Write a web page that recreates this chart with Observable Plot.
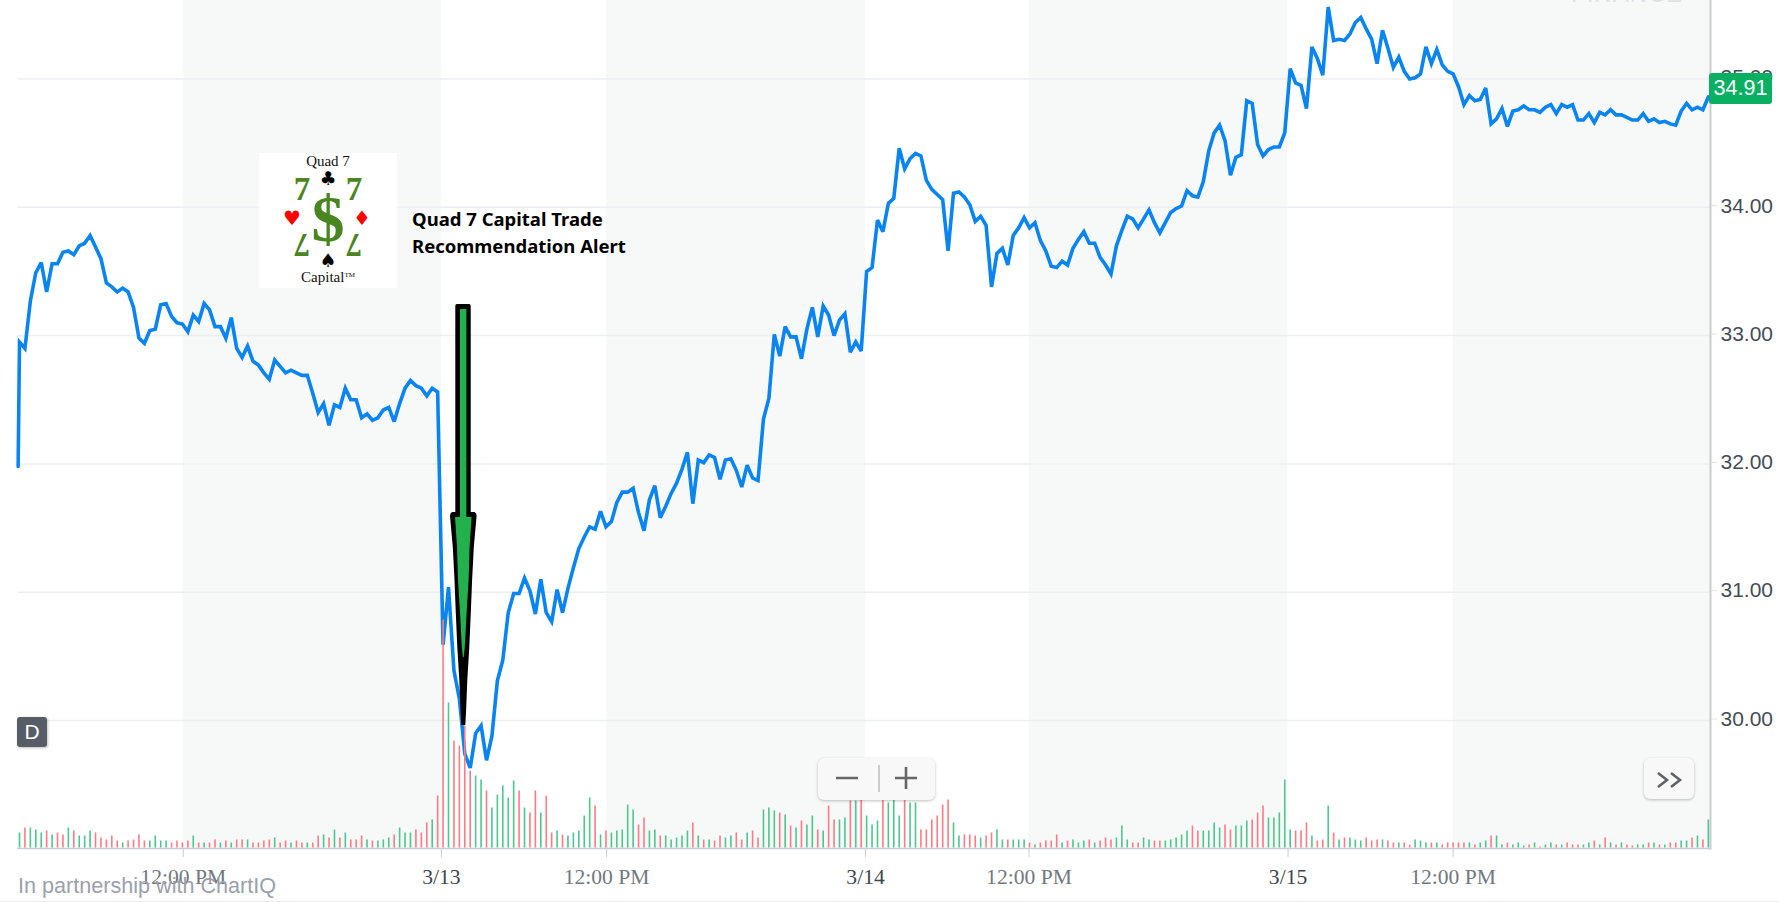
<!DOCTYPE html>
<html>
<head>
<meta charset="utf-8">
<script src="https://cdn.jsdelivr.net/npm/d3@7"></script>
<script src="https://cdn.jsdelivr.net/npm/@observablehq/plot@0.6"></script>
<style>
html,body{margin:0;padding:0;background:#fff;overflow:hidden}
#chart{position:relative;width:1779px;height:902px;overflow:hidden}
#chart>svg{position:absolute;left:0;top:0}
.chip{position:absolute;box-sizing:border-box;display:flex;align-items:center;justify-content:center}
</style>
</head>
<body>
<div id="chart"></div>
<script>
const prevClose = 31.98, prevCloseIndex = -0.25;
const priceDay1 = [32.95,32.9,33.27,33.49,33.57,33.34,33.56,33.56,33.65,33.66,33.63,33.7,33.72,33.78,33.69,33.6,33.41,33.38,33.34,33.37,33.34,33.22,32.98,32.94,33.04,33.05,33.24,33.25,33.15,33.1,33.09,33.03,33.16,33.11,33.25,33.2,33.07,33.07,32.98,33.14,32.9,32.83,32.92,32.8,32.77,32.71,32.66,32.81,32.76,32.71,32.73,32.71,32.69,32.69,32.55,32.4,32.47,32.3,32.46,32.44,32.59,32.5,32.5,32.36,32.39,32.34,32.36,32.42,32.44,32.33,32.47,32.59,32.65,32.61,32.59,32.53,32.59,32.56];
const priceDay2 = [30.59,31.04,30.39,30.17,29.74,29.63,29.9,29.96,29.69,29.88,30.31,30.47,30.84,30.99,30.99,31.11,31.01,30.83,31.1,30.84,30.77,31.02,30.84,31.03,31.19,31.34,31.43,31.51,31.49,31.63,31.51,31.55,31.7,31.78,31.78,31.81,31.62,31.48,31.72,31.83,31.58,31.67,31.77,31.85,31.96,32.09,31.69,32.03,32.01,32.07,32.05,31.88,32.03,32.04,31.95,31.82,31.99,31.89,31.87,32.35,32.51,33.01,32.84,33.07,32.99,32.99,32.82,33.05,33.22,32.99,33.23,33.16,33.0,33.12,33.17,32.87,32.95,32.88];
const priceDay3 = [33.5,33.53,33.9,33.81,34.03,34.07,34.46,34.3,34.38,34.42,34.4,34.21,34.14,34.1,34.06,33.66,34.11,34.12,34.08,34.02,33.89,33.93,33.86,33.38,33.64,33.68,33.55,33.78,33.84,33.92,33.84,33.88,33.74,33.66,33.54,33.53,33.58,33.55,33.68,33.75,33.81,33.72,33.72,33.61,33.55,33.48,33.7,33.82,33.93,33.91,33.84,33.91,33.98,33.88,33.8,33.88,33.96,33.99,34.01,34.13,34.09,34.08,34.2,34.44,34.58,34.64,34.52,34.25,34.39,34.41,34.83,34.81,34.49,34.4,34.45,34.47,34.47,34.58];
const priceDay4 = [35.08,34.97,34.95,34.77,35.25,35.16,35.03,35.56,35.3,35.31,35.3,35.35,35.44,35.48,35.39,35.31,35.12,35.38,35.24,35.09,35.17,35.06,35.0,35.01,35.04,35.25,35.12,35.23,35.11,35.06,35.04,34.94,34.8,34.87,34.83,34.84,34.93,34.65,34.69,34.77,34.63,34.75,34.76,34.79,34.76,34.76,34.74,34.78,34.8,34.73,34.8,34.78,34.8,34.68,34.68,34.73,34.66,34.74,34.72,34.76,34.72,34.72,34.7,34.68,34.68,34.73,34.67,34.69,34.66,34.67,34.65,34.64,34.75,34.81,34.76,34.78,34.76,34.86];
const lastPrice = "34.91";

const volumeDay1 = [15,20,20,18,15,17,13,15,13,20,17,12,12,17,15,10,8,12,7,5,7,8,13,7,7,12,7,7,5,7,5,7,12,5,5,5,8,5,7,5,8,8,8,5,5,7,8,10,5,7,5,7,5,5,5,12,13,10,18,10,15,8,8,12,8,7,7,8,10,13,20,15,15,18,15,25,28,52];
const volumeDay2 = [228,145,107,102,122,77,72,68,57,40,53,62,50,67,57,40,35,57,35,52,15,17,13,12,15,17,32,50,42,13,17,15,17,18,43,38,23,30,17,18,12,12,8,10,12,17,25,12,8,8,7,12,10,12,15,8,15,17,10,38,40,37,35,33,22,20,27,23,32,18,17,42,28,28,30,47,47,48];
const volumeDay3 = [32,23,27,55,45,55,32,55,45,45,18,18,28,32,43,48,25,12,13,13,12,10,12,15,18,8,8,8,8,8,5,3,5,7,7,13,5,7,8,5,7,8,5,7,10,8,10,22,8,5,5,10,8,7,7,7,8,10,13,17,22,17,17,17,25,20,23,18,22,22,27,28,35,42,30,30,35,68];
const volumeDay4 = [18,17,17,25,12,7,8,42,15,8,10,10,8,7,10,7,8,8,7,5,5,5,3,8,7,5,5,5,3,5,5,5,5,5,3,5,7,12,12,3,5,3,5,2,3,5,1,3,5,3,3,5,3,3,3,5,7,3,10,5,3,5,3,2,3,3,5,5,3,3,5,5,7,7,10,12,8,28];
const volumeSideDay1 = "grgggrgrrg"+"rgggrrrrrg"+"rrrrggggrr"+"rrgrgrrgrg"+"rrgrrrrgrr"+"grrgrrgrgr"+"grrrgrgggr"+"gggrrrgr";
const volumeSideDay2 = "rgrrrrggrg"+"ggggrgrrgr"+"rgrgggggrg"+"rgggggrrgg"+"rgggggrgrg"+"rrggrrgrrg"+"ggrgrgrggr"+"grrggrgr";
const volumeSideDay3 = "gggrgggrgg"+"rrrrrrggrr"+"rgrrggrggg"+"rgrrrrgrgg"+"grgrrrgggr"+"rggrrggggg"+"rrggggrrgg"+"grrrgggg";
const volumeSideDay4 = "grrrgrrgrg"+"rgggrrrgrr"+"grrgggrgrr"+"rrrgrggrgg"+"rgggrgrggr"+"grrrggrgrg"+"rgrrggrgrg"+"rrggrgrg";

const priceTicks = [30,31,32,33,34,35];
const noonTicks = [30.15,108.1,185.9,264.0];
const dateTicks = [77.7,155.8,233.6];
const dateLabels = ["3/13","3/14","3/15"];
const noonLabel = "12:00 PM";
const shadeStart = [30.15,108.1,185.9,264.0];
const shadeEnd = [77.7,155.8,233.6,311.4];

const prices = [...priceDay1,...priceDay2,...priceDay3,...priceDay4];
const volumes = [...volumeDay1,...volumeDay2,...volumeDay3,...volumeDay4];
const sides = volumeSideDay1+volumeSideDay2+volumeSideDay3+volumeSideDay4;
const lineData = [{i:prevCloseIndex,p:prevClose},...prices.map((p,i)=>({i,p}))];
const barData = volumes.map((v,i)=>({i,v,c:sides[i]==="g"?"#4cc78e":"#ff7a84"}));
const shades = shadeStart.map((a,i)=>({a,b:shadeEnd[i]}));

const W=1779,H=902;
const xScale = {domain:[-0.276,311.4],range:[17.5,1710],axis:null};
const common = {width:W,height:H,marginTop:0,marginBottom:54,marginLeft:17.5,marginRight:69};

const base = Plot.plot({...common,
  style:{background:"#fff",overflow:"visible"},
  x:xScale,
  y:{domain:[30,35],range:[720,78.5],axis:null},
  marks:[
    Plot.rectX(shades,{x1:"a",x2:"b",fill:"#f7f9f9"}),
    Plot.ruleY(priceTicks,{stroke:"#eceeef",strokeWidth:1.5}),
    Plot.frame({anchor:"bottom",stroke:"#c9cdd1",strokeWidth:1.5}),
    Plot.frame({anchor:"right",stroke:"#c9cdd1",strokeWidth:2}),
    Plot.axisX(noonTicks,{anchor:"bottom",tickSize:9,tickPadding:11,stroke:"#c9cdd1",fill:"#72787f",fontSize:21.6,fontFamily:"Liberation Serif",tickFormat:()=>noonLabel,label:null}),
    Plot.axisX(dateTicks,{anchor:"bottom",tickSize:9,tickPadding:11,stroke:"#c9cdd1",fill:"#3f454d",fontSize:21.6,fontFamily:"Liberation Serif",tickFormat:d=>dateLabels[dateTicks.indexOf(d)],label:null}),
    Plot.axisY(priceTicks,{anchor:"right",tickSize:6,tickPadding:4,stroke:"#dfe2e4",fill:"#454c55",fontSize:21,dy:-1.5,fontFamily:"Liberation Sans",tickFormat:d3.format(".2f"),label:null}),
    Plot.line(lineData,{x:"i",y:"p",stroke:"#0a84f0",strokeWidth:3.6,strokeLinejoin:"miter",strokeMiterlimit:3})
  ]
});

const vol = Plot.plot({...common,
  style:{background:"transparent",overflow:"visible"},
  x:xScale,
  y:{domain:[0,250],range:[847.5,597.5],axis:null},
  marks:[
    Plot.ruleX(barData,{x:"i",y1:0,y2:"v",stroke:"c",strokeWidth:1.6})
  ]
});

const root = document.getElementById("chart");
root.append(base,vol);

const overlay = `
<svg width="1779" height="902" style="overflow:hidden" xmlns="http://www.w3.org/2000/svg">
  <text x="1571" y="2" font-family="Liberation Sans" font-size="24" letter-spacing="1" fill="#dfe2e5">FINANCE</text>
  <rect x="259" y="153" width="138" height="135" fill="#fff"/>
  <g text-anchor="middle">
    <text x="328" y="166" font-family="Liberation Serif" font-size="15" fill="#111">Quad 7</text>
    <text x="328" y="185" font-family="DejaVu Sans" font-size="19" fill="#000">♣</text>
    <text x="302" y="200" font-family="Liberation Serif" font-weight="bold" font-size="33" fill="#4a8522">7</text>
    <text x="354" y="200" font-family="Liberation Serif" font-weight="bold" font-size="33" fill="#4a8522">7</text>
    <text x="292" y="225" font-family="DejaVu Sans" font-size="20" fill="#f00">♥</text>
    <text x="362" y="225" font-family="DejaVu Sans" font-size="20" fill="#f00">♦</text>
    <text x="328" y="241" font-family="Liberation Serif" font-weight="bold" font-size="66" fill="#4a8522">$</text>
    <text transform="translate(302,234) rotate(180)" font-family="Liberation Serif" font-weight="bold" font-size="33" fill="#4a8522">7</text>
    <text transform="translate(354,234) rotate(180)" font-family="Liberation Serif" font-weight="bold" font-size="33" fill="#4a8522">7</text>
    <text x="328" y="267" font-family="DejaVu Sans" font-size="19" fill="#000">♠</text>
    <text x="328" y="282" font-family="Liberation Serif" font-size="15" fill="#111">Capital<tspan font-size="7" dy="-5">TM</tspan></text>
  </g>
  <g font-family="Noto Sans" font-weight="bold" font-size="18.5" fill="#000">
    <text x="412" y="226">Quad 7 Capital Trade</text>
    <text x="412" y="253">Recommendation Alert</text>
  </g>
  <path d="M457,304 Q455.3,304 455.3,306 L455.3,512 L452,512 Q450,513 450,516 L452.8,547 L454.5,580 L455.8,613 L457.3,647 L459.3,680 L460.6,713 L461.3,725 L465.3,725 L466,713 L467.3,680 L469.3,647 L470.8,613 L472.1,580 L473.8,547 L476.6,516 Q476.6,513 474.6,512 L470.7,512 L470.7,306 Q470.7,304 469,304 Z" fill="#000"/>
  <path d="M460,309 L466.4,309 L466.4,517 L471.6,517 L469.6,547 L468.6,580 L466.6,613 L464.8,647 L463.8,657 L462.8,657 L461.8,647 L460,613 L458,580 L457,547 L455,517 L460,517 Z" fill="#22b14c"/>
  <text x="18" y="893" font-family="Liberation Sans" font-size="21.6" fill="#9aa1ab">In partnership with ChartIQ</text>
  <line x1="0" x2="1779" y1="901.5" y2="901.5" stroke="#eee"/>
</svg>`;
const holder = document.createElement("div");
holder.innerHTML = overlay.trim();
root.append(holder.firstChild);

function chip(css,html){const d=document.createElement("div");d.className="chip";d.style.cssText=css;d.innerHTML=html;root.append(d);return d;}
chip("left:1709px;top:73px;width:63px;height:31px;background:#09b062;border-radius:3px;color:#fff;font:21.5px 'Liberation Sans'",lastPrice);
chip("left:17px;top:717px;width:30px;height:30px;background:#565d67;border-radius:3px;color:#fff;font:21px 'Liberation Sans';box-shadow:1px 1px 3px rgba(0,0,0,.25)","D");
chip("left:818px;top:758px;width:117px;height:42px;background:#f8f8f8;border-radius:6px;box-shadow:0 1px 3px rgba(0,0,0,.25)",
 `<svg width="117" height="42"><g stroke="#666" stroke-width="2.6" fill="none"><path d="M18,20 H40 M77,20 H99 M88,9 V31"/></g><path d="M61,7 V34" stroke="#bdbdbd" stroke-width="1.5"/></svg>`);
chip("left:1644px;top:758px;width:50px;height:41px;background:#f8f8f8;border-radius:6px;box-shadow:0 1px 3px rgba(0,0,0,.25)",
 `<svg width="50" height="41"><path d="M14,15 L23,22 L14,29 M27,15 L36,22 L27,29" fill="none" stroke="#5f6368" stroke-width="2.6"/></svg>`);
</script>
</body>
</html>
